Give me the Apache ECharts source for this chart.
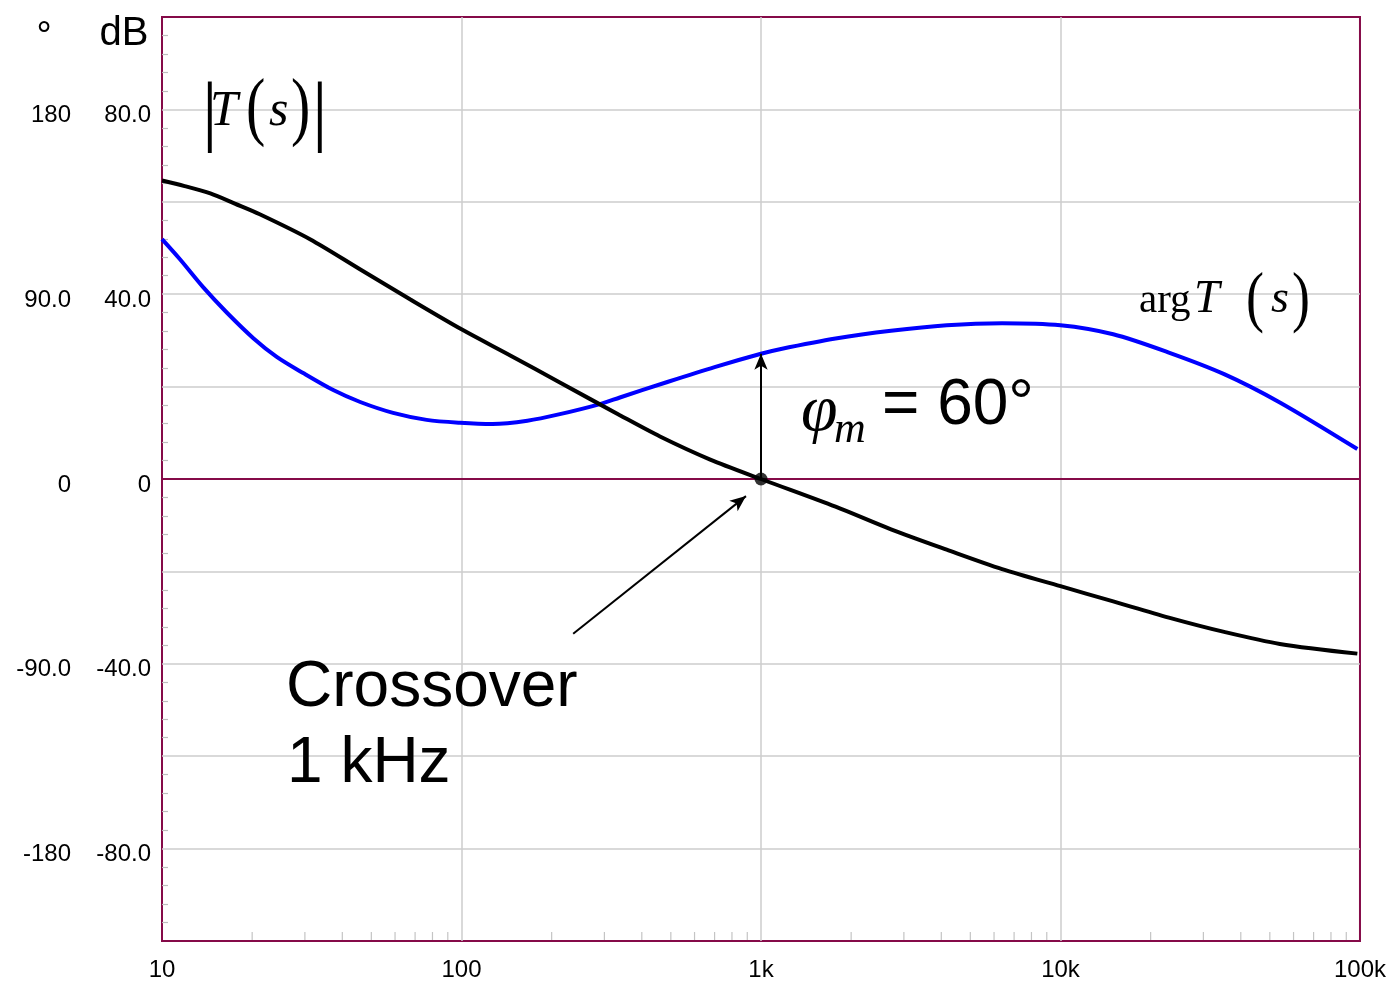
<!DOCTYPE html>
<html>
<head>
<meta charset="utf-8">
<script src="https://cdn.jsdelivr.net/npm/echarts@6/dist/echarts.min.js"></script>
<style>
  html, body { margin: 0; padding: 0; background: #ffffff; }
  #chart { width: 1389px; height: 982px; }
</style>
</head>
<body>
<div id="chart"></div>
<script>
// ---- Data ----
const magFreq = [10, 11.9, 14.5, 17.5, 21.2, 31.2, 45.8, 67.3, 100, 146, 213, 338, 460, 677, 1000, 1774, 2717, 4169, 6383, 10000, 15000, 23000, 35200, 54000, 98000];
const magDb   = [64.6, 63.4, 61.8, 59.6, 57.3, 51.9, 45.4, 38.9, 32.4, 26.7, 20.9, 13.8, 9.2, 4.2, 0, -6.0, -10.9, -15.3, -19.5, -23.2, -26.5, -30.0, -33.1, -35.7, -37.8];

const phaseFreq = [10, 11.48, 13.74, 16.45, 20.18, 24.16, 29.6, 37.3, 45.9, 59.1, 76.5, 98.9, 127, 166, 213, 290, 338, 481, 700, 1000, 1156, 1774, 2717, 4169, 6383, 10000, 15000, 23000, 35200, 54000, 98000];
const phaseDeg  = [116.8, 107.0, 93.3, 81.1, 68.6, 59.5, 51.6, 43.3, 37.5, 32.2, 28.8, 27.4, 26.8, 28.4, 31.6, 36.5, 39.7, 47.0, 54.5, 61, 63.2, 68.4, 72.2, 74.9, 75.9, 74.9, 70.5, 61.6, 51.1, 37.3, 14.6];

const xTickLabels = { 10: '10', 100: '100', 1000: '1k', 10000: '10k', 100000: '100k' };
const dbTickLabels = { 80: '80.0', 40: '40.0', 0: '0', '-40': '-40.0', '-80': '-80.0' };
const degTickLabels = { 180: '180', 90: '90.0', 0: '0', '-90': '-90.0', '-180': '-180' };

const minorMultipliers = [2, 3, 4, 5, 6, 7, 8, 9];
const decades = [10, 100, 1000, 10000];

const crossover = [1000, 0];          // Hz, dB
const phaseMarginTop = [1000, 61];     // Hz, degrees
const crossArrowFrom = [236, -33.5];  // Hz, dB
const crossArrowTo = [891, -3.7];     // Hz, dB

// ---- Styles ----
const MAROON = '#850a48';
const GRID = '#cccccc';
const SANS = "'Liberation Sans', Arial, sans-serif";
const SERIF = "'Liberation Serif', 'Times New Roman', serif";

const xMinor = [];
decades.forEach(d => minorMultipliers.forEach(m => xMinor.push([d * m, -100])));

const chart = echarts.init(document.getElementById('chart'), null, { renderer: 'canvas' });

function t(text, x, y, font, align, sy) {
  return {
    type: 'text', x: x, y: y, silent: true, z: 100,
    scaleY: sy || 1, originX: 0, originY: 0,
    style: { text: text, font: font, fill: '#000', textAlign: align || 'left', textVerticalAlign: 'middle' }
  };
}

const option = {
  animation: false,
  backgroundColor: '#ffffff',
  grid: { left: 162, top: 17, width: 1198, height: 925, show: true, borderColor: MAROON, borderWidth: 2, backgroundColor: 'transparent' },
  xAxis: {
    type: 'log', logBase: 10, min: 10, max: 100000,
    axisLine: { show: false }, axisTick: { show: false },
    splitLine: { show: true, showMinLine: false, showMaxLine: false, lineStyle: { color: GRID, width: 1.5 } },
    axisLabel: {
      fontSize: 24, fontFamily: SANS, color: '#000', margin: 17,
      formatter: v => xTickLabels[Math.round(v)] || ''
    }
  },
  yAxis: [
    {
      type: 'value', min: -100, max: 100, interval: 20,
      axisLine: { show: false }, axisTick: { show: false, inside: true },
      minorTick: { show: true, splitNumber: 5, length: 6, lineStyle: { color: '#bdbdbd', width: 1.2 } },
      splitLine: { show: true, showMinLine: false, showMaxLine: false, lineStyle: { color: GRID, width: 1.5 } },
      axisLabel: {
        fontSize: 24, fontFamily: SANS, color: '#000', margin: 11, verticalAlign: 'top', lineHeight: 12,
        formatter: v => dbTickLabels[String(v)] || ''
      }
    },
    {
      type: 'value', min: -225, max: 225, interval: 45, position: 'left', offset: 80,
      axisLine: { show: false }, axisTick: { show: false }, splitLine: { show: false },
      axisLabel: {
        fontSize: 24, fontFamily: SANS, color: '#000', margin: 11, verticalAlign: 'top', lineHeight: 12,
        formatter: v => degTickLabels[String(v)] || ''
      }
    }
  ],
  series: [
    {
      type: 'custom', xAxisIndex: 0, yAxisIndex: 0, silent: true, clip: false, z: 3,
      data: xMinor,
      renderItem: (params, api) => {
        const p = api.coord([api.value(0), api.value(1)]);
        return { type: 'line', shape: { x1: p[0], y1: p[1] - 1, x2: p[0], y2: p[1] - 9 }, style: { stroke: '#c4c4c4', lineWidth: 1.2 } };
      }
    },
    {
      name: 'arg T(s)', type: 'line', yAxisIndex: 1, showSymbol: false, smooth: 0.3,
      data: phaseFreq.map((f, i) => [f, phaseDeg[i]]),
      lineStyle: { color: '#0000ff', width: 4 }, z: 4,
      markLine: {
        silent: true, symbol: ['none', 'arrow'], symbolSize: [10, 16], label: { show: false },
        lineStyle: { color: '#000', width: 2, type: 'solid' },
        data: [[{ coord: crossover }, { coord: phaseMarginTop }]]
      }
    },
    {
      name: '|T(s)|', type: 'line', yAxisIndex: 0, showSymbol: false, smooth: 0.3,
      data: magFreq.map((f, i) => [f, magDb[i]]),
      lineStyle: { color: '#000000', width: 4 }, z: 5,
      markLine: {
        silent: true, symbol: 'none', label: { show: false },
        lineStyle: { color: MAROON, width: 2, type: 'solid' },
        data: [
          { yAxis: 0 },
          [{ coord: crossArrowFrom, symbol: 'none', lineStyle: { color: '#000', width: 2 } },
           { coord: crossArrowTo, symbol: 'arrow', symbolSize: [10, 16] }]
        ]
      }
    },
    {
      type: 'scatter', yAxisIndex: 0, data: [crossover], symbol: 'circle', symbolSize: 13,
      itemStyle: { color: '#000' }, z: 6, silent: true
    }
  ],
  graphic: [
    t('°', 44, 38, '38px ' + SANS, 'center'),
    t('dB', 124, 34, '40px ' + SANS, 'center'),
    // |T(s)|
    t('|', 202, 116, '78px ' + SERIF),
    t('T', 210, 112, 'italic 50px ' + SERIF),
    t('(', 246, 111, '58px ' + SERIF, 'left', 1.3),
    t('s', 269, 112, 'italic 50px ' + SERIF),
    t(')', 291, 111, '58px ' + SERIF, 'left', 1.3),
    t('|', 312, 116, '78px ' + SERIF),
    // arg T(s)
    t('arg', 1139, 301, '41px ' + SERIF),
    t('T', 1194, 300, 'italic 46px ' + SERIF),
    t('(', 1246, 301, '54px ' + SERIF, 'left', 1.25),
    t('s', 1271, 300, 'italic 46px ' + SERIF),
    t(')', 1292, 301, '54px ' + SERIF, 'left', 1.25),
    // phi_m = 60°
    t('φ', 801, 413, 'italic 66px ' + SERIF),
    t('m', 834, 430, 'italic 44px ' + SERIF),
    t('= 60°', 882, 406, '64px ' + SANS),
    // Crossover
    t('Crossover', 286, 688, '64px ' + SANS),
    t('1 kHz', 287, 764, '64px ' + SANS)
  ]
};

chart.setOption(option);
</script>
</body>
</html>
